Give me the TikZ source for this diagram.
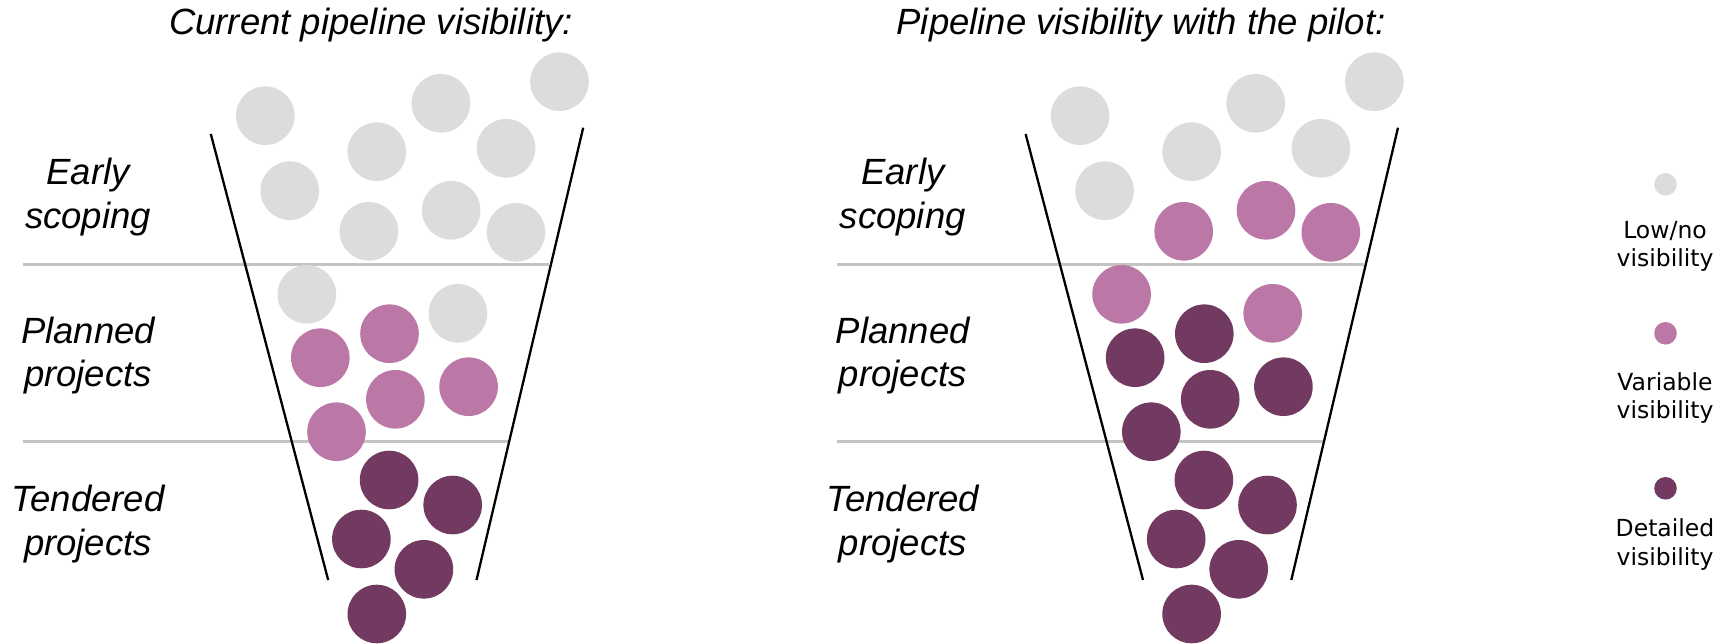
\documentclass[tikz,border=0pt]{standalone}
\usepackage{fontspec}
\setmainfont{Liberation Sans}
\newfontfamily\legendfont{DejaVu Sans}
\definecolor{lowvis}{HTML}{DCDCDC}
\definecolor{varvis}{HTML}{BB78A6}
\definecolor{detvis}{HTML}{723A61}
\definecolor{sepgray}{HTML}{C4C4C4}
\begin{document}
\begin{tikzpicture}[x=1pt,y=-1pt,
  ball/.style={circle,inner sep=0pt,minimum size=58.6pt,draw=none},
  gball/.style={ball,fill=lowvis},
  pball/.style={ball,fill=varvis},
  dball/.style={ball,fill=detvis},
  legdot/.style={circle,inner sep=0pt,minimum size=22.6pt,draw=none},
  ttl/.style={font=\fontsize{36.5}{42}\selectfont\itshape,inner sep=0pt,anchor=base},
  lbl/.style={font=\fontsize{36.5}{42}\selectfont\itshape,inner sep=0pt,anchor=base},
  leg/.style={font=\legendfont\fontsize{23.5}{28}\selectfont,inner sep=0pt,anchor=base},
  sepline/.style={draw=sepgray,line width=2.6pt},
  funnel/.style={draw=black,line width=2.3pt}]
\useasboundingbox (0,0) rectangle (1720,644);
% ---------- left panel ----------
\node[ttl] (t1) at (371,35) {Current pipeline visibility:};
\coordinate (s1a) at (22.5,264.6);
\coordinate (s1b) at (548.8,264.6);
\coordinate (s2a) at (22.5,441.7);
\coordinate (s2b) at (510,441.7);
\draw[sepline] (s1a) -- (s1b);
\draw[sepline] (s2a) -- (s2b);
\coordinate (fl1) at (210.8,134);
\coordinate (fl2) at (328.2,580);
\coordinate (fr1) at (583.2,127.7);
\coordinate (fr2) at (476.5,580);
\draw[funnel] (fl1) -- (fl2);
\draw[funnel] (fr1) -- (fr2);
\node[lbl] (e1) at (88,184.3) {Early};
\node[lbl] (e2) at (88,228.2) {scoping};
\node[lbl] (p1) at (88,343.3) {Planned};
\node[lbl] (p2) at (88,386.7) {projects};
\node[lbl] (d1) at (88,511.7) {Tendered};
\node[lbl] (d2) at (88,555) {projects};
% balls
\node[gball] (LA) at (265.3,115.7) {};
\node[gball] (LB) at (440.9,103.3) {};
\node[gball] (LC) at (559.5,81.7) {};
\node[gball] (LD) at (376.8,151.7) {};
\node[gball] (LE) at (506.1,148.3) {};
\node[gball] (LF) at (289.8,190.7) {};
\node[gball] (LG) at (451.2,210.3) {};
\node[gball] (LH) at (368.9,231.3) {};
\node[gball] (LI) at (516.0,232.3) {};
\node[gball] (LJ) at (306.8,294.3) {};
\node[gball] (LK) at (457.9,313.3) {};
\node[pball] (LP1) at (320.3,357.7) {};
\node[pball] (LP2) at (389.5,333.7) {};
\node[pball] (LP3) at (395.4,399.3) {};
\node[pball] (LP4) at (468.6,386.7) {};
\node[pball] (LP5) at (336.5,431.7) {};
\node[dball] (LD1) at (389.1,480) {};
\node[dball] (LD2) at (452.7,505) {};
\node[dball] (LD3) at (361.4,539) {};
\node[dball] (LD4) at (423.9,569.3) {};
\node[dball] (LD5) at (376.8,614) {};
% ---------- right panel ----------
\begin{scope}[xshift=814.8pt]
\coordinate (r1a) at (22.5,264.6);
\coordinate (r1b) at (548.8,264.6);
\coordinate (r2a) at (22.5,441.7);
\coordinate (r2b) at (510,441.7);
\draw[sepline] (r1a) -- (r1b);
\draw[sepline] (r2a) -- (r2b);
\coordinate (gl1) at (210.8,134);
\coordinate (gl2) at (328.2,580);
\coordinate (gr1) at (583.2,127.7);
\coordinate (gr2) at (476.5,580);
\draw[funnel] (gl1) -- (gl2);
\draw[funnel] (gr1) -- (gr2);
\node[lbl] (re1) at (88,184.3) {Early};
\node[lbl] (re2) at (88,228.2) {scoping};
\node[lbl] (rp1) at (88,343.3) {Planned};
\node[lbl] (rp2) at (88,386.7) {projects};
\node[lbl] (rd1) at (88,511.7) {Tendered};
\node[lbl] (rd2) at (88,555) {projects};
\node[gball] (RA) at (265.3,115.7) {};
\node[gball] (RB) at (440.9,103.3) {};
\node[gball] (RC) at (559.5,81.7) {};
\node[gball] (RD) at (376.8,151.7) {};
\node[gball] (RE) at (506.1,148.3) {};
\node[gball] (RF) at (289.8,190.7) {};
\node[pball] (RG) at (451.2,210.3) {};
\node[pball] (RH) at (368.9,231.3) {};
\node[pball] (RI) at (516.0,232.3) {};
\node[pball] (RJ) at (306.8,294.3) {};
\node[pball] (RK) at (457.9,313.3) {};
\node[dball] (RP1) at (320.3,357.7) {};
\node[dball] (RP2) at (389.5,333.7) {};
\node[dball] (RP3) at (395.4,399.3) {};
\node[dball] (RP4) at (468.6,386.7) {};
\node[dball] (RP5) at (336.5,431.7) {};
\node[dball] (RD1) at (389.1,480) {};
\node[dball] (RD2) at (452.7,505) {};
\node[dball] (RD3) at (361.4,539) {};
\node[dball] (RD4) at (423.9,569.3) {};
\node[dball] (RD5) at (376.8,614) {};
\end{scope}
\node[ttl] (t2) at (1141,35) {Pipeline visibility with the pilot:};
% ---------- legend ----------
\node[legdot,fill=lowvis] (k1) at (1665.5,184.3) {};
\node[leg] (k1a) at (1665,238.3) {Low/no};
\node[leg] (k1b) at (1665,266.7) {visibility};
\node[legdot,fill=varvis] (k2) at (1665.5,333.3) {};
\node[leg] (k2a) at (1665,390) {Variable};
\node[leg] (k2b) at (1665,418.3) {visibility};
\node[legdot,fill=detvis] (k3) at (1665.5,488.3) {};
\node[leg] (k3a) at (1665,536.7) {Detailed};
\node[leg] (k3b) at (1665,565) {visibility};
\end{tikzpicture}
\end{document}
